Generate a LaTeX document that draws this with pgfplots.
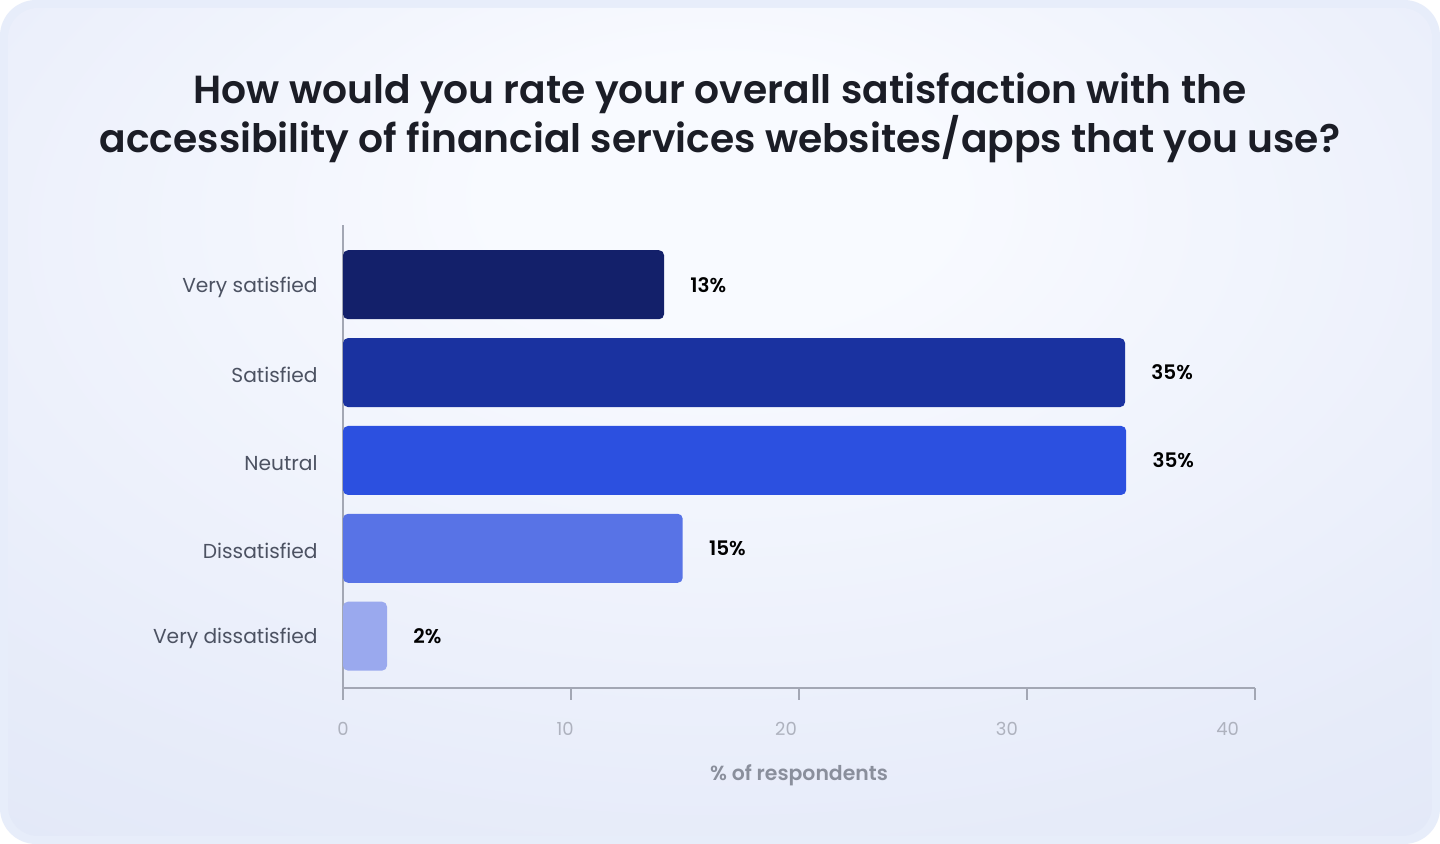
\documentclass[border=0pt]{standalone}
\usepackage{pgfplots}
\pgfplotsset{compat=1.18}
\usepackage{fontspec}
\setmainfont{Poppins}
\IfFontExistsTF{Poppins SemiBold}{\newfontfamily\semib{Poppins SemiBold}}{\newfontfamily\semib{Poppins}[UprightFont=*-Bold]}
\definecolor{outerpanel}{HTML}{E7EDFA}
\definecolor{panelin}{HTML}{F8FAFF}
\definecolor{panelmid}{HTML}{E6EBF9}
\definecolor{panelout}{HTML}{D9E2F5}
\definecolor{titlecol}{HTML}{1B1D26}
\definecolor{catcol}{HTML}{4C5262}
\definecolor{tickcol}{HTML}{AEB2BE}
\definecolor{xlabcol}{HTML}{8A8F9C}
\definecolor{axiscol}{HTML}{A3A7B4}
\definecolor{cA}{HTML}{13206A}
\definecolor{cB}{HTML}{1A32A0}
\definecolor{cC}{HTML}{2C50E0}
\definecolor{cD}{HTML}{5873E6}
\definecolor{cE}{HTML}{9AA9EE}
\pgfdeclareradialshading{panelshade}{\pgfpoint{0bp}{15bp}}{color(0bp)=(panelin); color(8bp)=(panelin); color(36bp)=(panelmid); color(62bp)=(panelout); color(100bp)=(panelout)}
\begin{document}
\begin{tikzpicture}
\path[use as bounding box] (0,0) rectangle (720pt,422pt);
\fill[white] (0,0) rectangle (720pt,422pt);
\fill[outerpanel, rounded corners=18pt] (0,0) rectangle (720pt,422pt);
\shade[rounded corners=15pt, shading=panelshade] (4pt,4pt) rectangle (716pt,418pt);
\node[font=\semib\fontsize{19.6}{25}\selectfont, text=titlecol, anchor=base] at (360pt,370pt) {How would you rate your overall satisfaction with the};
\node[font=\semib\fontsize{19.6}{25}\selectfont, text=titlecol, anchor=base] at (360pt,345.5pt) {accessibility of financial services websites/apps that you use?};
\begin{axis}[
  at={(171.5pt,78pt)}, anchor=south west,
  scale only axis, width=456pt, height=231.5pt,
  xmin=0, xmax=40, ymin=-0.59, ymax=4.68,
  axis x line*=bottom, axis y line*=left,
  axis line style={draw=axiscol, line width=1pt, -},
  xtick={0,10,20,30,40}, xticklabels={},
  xtick align=outside, ytick align=inside,
  major tick length=6pt,
  xtick style={draw=axiscol, line width=1pt},
  extra x ticks={0,9.74,19.43,29.12,38.8},
  extra x tick labels={0,10,20,30,40},
  extra x tick style={major tick length=0pt, tick style={draw=none}},
  xticklabel style={font=\fontsize{9}{9}\selectfont, text=tickcol, anchor=north, inner sep=0pt, yshift=-17pt},
  ytick={0,1,2,3,4},
  yticklabels={Very dissatisfied,Dissatisfied,Neutral,Satisfied,Very satisfied},
  ytick style={draw=none},
  yticklabel style={font=\fontsize{10.1}{10.1}\selectfont, text=catcol, anchor=east, inner sep=0pt, xshift=-12.5pt, yshift=-1.3pt},
  xlabel={\% of respondents},
  xlabel style={font=\semib\fontsize{10.2}{10.2}\selectfont, text=xlabcol, at={(axis description cs:0.5,0)}, anchor=center, yshift=-43.5pt},
  every axis plot/.append style={xbar, bar width=34.5pt, bar shift=0pt, draw=none, rounded corners=2.5pt},
  nodes near coords={\pgfplotspointmeta\%},
  point meta=explicit symbolic,
  nodes near coords style={font=\semib\fontsize{10}{10}\selectfont, text=black, anchor=west, inner sep=0pt, xshift=13pt},
  clip=false,
]
\addplot[fill=cA] coordinates {(14.08,4) [13]};
\addplot[fill=cB] coordinates {(34.3,3) [35]};
\addplot[fill=cC] coordinates {(34.35,2) [35]};
\addplot[fill=cD] coordinates {(14.9,1) [15]};
\addplot[fill=cE] coordinates {(1.93,0) [2]};
\end{axis}
\end{tikzpicture}
\end{document}
